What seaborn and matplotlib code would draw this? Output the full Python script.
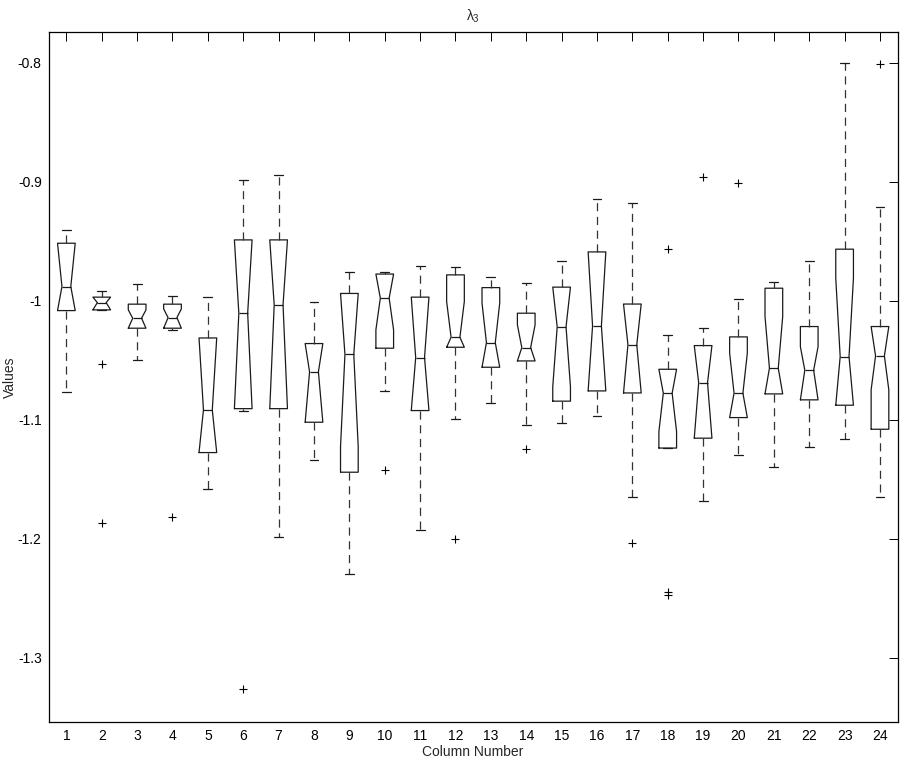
import matplotlib
matplotlib.use("Agg")
import matplotlib.pyplot as plt
import seaborn as sns

# ---- data (one notched box per column) ----
columns = list(range(1, 25))
q1 = [-1.0084, -1.0078, -1.0232, -1.0232, -1.1277, -1.0908, -1.0908, -1.1022,
      -1.1442, -1.0400, -1.0924, -1.0392, -1.0560, -1.0507, -1.0845, -1.0759,
      -1.0776, -1.1239, -1.1156, -1.0983, -1.0784, -1.0834, -1.0879, -1.1081]
med = [-0.9882, -1.0017, -1.0148, -1.0143, -1.0918, -1.0106, -1.0036, -1.0599,
       -1.0452, -0.9979, -1.0479, -1.0308, -1.0353, -1.0395, -1.0221, -1.0213,
       -1.0371, -1.0778, -1.0690, -1.0778, -1.0568, -1.0585, -1.0471, -1.0465]
q3 = [-0.9518, -0.9971, -1.0030, -1.0030, -1.0314, -0.9490, -0.9490, -1.0361,
      -0.9940, -0.9777, -0.9971, -0.9784, -0.9891, -1.0106, -0.9887, -0.9591,
      -1.0029, -1.0577, -1.0378, -1.0305, -0.9896, -1.0218, -0.9568, -1.0218]
whisker_lo = [-1.0767, -1.0078, -1.0498, -1.0249, -1.1580, -1.0924, -1.1990, -1.1339,
              -1.2300, -1.0762, -1.1930, -1.0992, -1.0862, -1.1042, -1.1025, -1.0969,
              -1.1650, -1.1239, -1.1686, -1.1299, -1.1397, -1.1232, -1.1165, -1.1650]
whisker_hi = [-0.9406, -0.9916, -0.9862, -0.9960, -0.9971, -0.8986, -0.8941, -1.0012,
              -0.9760, -0.9756, -0.9708, -0.9714, -0.9801, -0.9850, -0.9669, -0.9148,
              -0.9176, -1.0287, -1.0227, -0.9986, -0.9845, -0.9668, -0.8005, -0.9210]
notch_lo = [-1.0084, -1.0078, -1.0232, -1.0232, -1.1277, -1.0908, -1.0908, -1.1022,
            -1.1227, -1.0246, -1.0924, -1.0392, -1.0560, -1.0507, -1.0723, -1.0759,
            -1.0776, -1.1101, -1.1156, -1.0983, -1.0784, -1.0834, -1.0879, -1.0750]
notch_hi = [-0.9518, -0.9971, -1.0078, -1.0070, -1.0314, -0.9490, -0.9490, -1.0361,
            -0.9940, -0.9777, -0.9971, -1.0008, -1.0022, -1.0204, -0.9887, -0.9591,
            -1.0029, -1.0577, -1.0378, -1.0442, -1.0134, -1.0387, -0.9812, -1.0218]
outliers = [[], [-1.053, -1.187], [], [-1.182], [], [-1.326], [], [],
            [], [-1.1423], [], [-1.2005], [], [-1.1244], [], [],
            [-1.204], [-0.9566, -1.245, -1.247], [-0.896], [-0.9008], [], [], [], [-0.8011]]

y_ticks = [-1.3, -1.2, -1.1, -1.0, -0.9, -0.8]
y_tick_labels = ["-1.3", "-1.2", "-1.1", "-1", "-0.9", "-0.8"]

# ---- style ----
sns.set_theme(style="white")
plt.rcParams["font.family"] = ["Liberation Sans", "DejaVu Sans"]
plt.rcParams["mathtext.fontset"] = "custom"
plt.rcParams["mathtext.rm"] = "Liberation Sans"
plt.rcParams["mathtext.it"] = "Liberation Sans"
plt.rcParams["axes.unicode_minus"] = False

fig = plt.figure(figsize=(9.0, 7.61), dpi=100)
ax = fig.add_axes([0.0541, 0.0509, 0.9433, 0.9074])

stats = []
for i, c in enumerate(columns):
    stats.append(dict(
        label=str(c), q1=q1[i], med=med[i], q3=q3[i],
        whislo=whisker_lo[i], whishi=whisker_hi[i],
        cilo=notch_lo[i], cihi=notch_hi[i], fliers=outliers[i],
    ))

lc = "#1a1a1a"
ax.bxp(
    stats, positions=columns, widths=0.5, shownotches=True,
    boxprops=dict(color=lc, linewidth=0.9),
    medianprops=dict(color=lc, linewidth=0.9),
    whiskerprops=dict(color="#333333", linewidth=0.9, linestyle=(0, (6.5, 4.5))),
    capprops=dict(color=lc, linewidth=0.9),
    flierprops=dict(marker="+", markersize=6, markeredgecolor="black",
                    markeredgewidth=0.8, linestyle="none"),
    capwidths=0.25,
)

ax.set_xlim(0.5, 24.5)
ax.set_ylim(-1.3543, -0.7741)
ax.set_xticks(columns)
ax.set_xticklabels([str(c) for c in columns])
ax.set_yticks(y_ticks)
ax.set_yticklabels(y_tick_labels)

ax.tick_params(axis="both", which="major", direction="in", length=6.5, width=0.7,
               top=True, right=True, labelsize=10, colors="black", pad=5)
for s in ax.spines.values():
    s.set_color("black")
    s.set_linewidth(0.9)

ax.set_title(r"$\lambda_3$", fontsize=10, pad=8)
ax.set_xlabel("Column Number", fontsize=10, labelpad=1)
ax.set_ylabel("Values", fontsize=10, labelpad=1)

fig.savefig("out.png", dpi=100)
